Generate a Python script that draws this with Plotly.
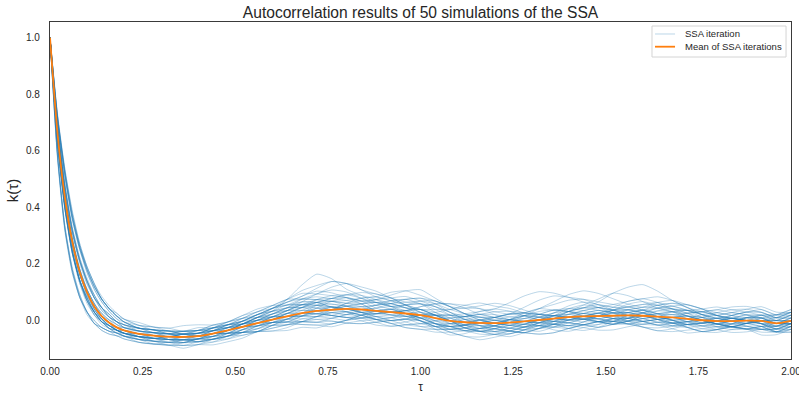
import plotly.graph_objects as go

# Lag values (tau) at which every autocorrelation curve is sampled
lags = [0.00, 0.02, 0.04, 0.06, 0.08, 0.10, 0.12, 0.14, 0.16, 0.18, 0.20,
        0.24, 0.28, 0.32, 0.36, 0.40, 0.44, 0.48, 0.52, 0.56, 0.60,
        0.64, 0.68, 0.72, 0.76, 0.80, 0.84, 0.88, 0.92, 0.96, 1.00,
        1.04, 1.08, 1.12, 1.16, 1.20, 1.24, 1.28, 1.32, 1.36, 1.40,
        1.44, 1.48, 1.52, 1.56, 1.60, 1.64, 1.68, 1.72, 1.76, 1.80,
        1.84, 1.88, 1.92, 1.96, 2.00]

# Mean autocorrelation over all SSA runs
mean_k = [1.000, 0.665, 0.436, 0.279, 0.172, 0.099, 0.048, 0.014, -0.009, -0.025, -0.036,
          -0.048, -0.054, -0.058, -0.059, -0.056, -0.047, -0.036, -0.023, -0.010, 0.002,
          0.014, 0.025, 0.033, 0.037, 0.040, 0.038, 0.033, 0.029, 0.024, 0.018,
          0.008, -0.002, -0.007, -0.009, -0.010, -0.008, -0.004, 0.001, 0.006, 0.011,
          0.014, 0.015, 0.016, 0.017, 0.016, 0.013, 0.010, 0.005, 0.000, -0.003,
          -0.003, -0.001, -0.002, -0.011, -0.002]

# Offset of each SSA run from the mean, in hundredths, for tau = 0.02 ... 2.00
# (at tau = 0 every run equals 1)
run_offsets = [
    "6 9 9 9 8 7 6 5 4 4 | 3 2 2 1 1 0 1 2 3 4 | 5 6 8 10 9 7 5 4 3 2 | 1 0 -1 -2 -1 1 3 4 3 2 | 0 -2 -3 -2 0 1 2 1 0 -1 | -2 -1 0 1 2",
    "0 1 0 -1 0 0 -1 -1 0 0 | -1 -2 -2 -1 0 0 -1 -2 -3 -2 | -1 0 2 3 1 -1 -3 -4 -3 -1 | 1 2 1 -1 -3 -4 -3 -1 1 3 | 4 3 1 -1 -2 -1 0 2 3 2 | 0 -2 -3 -2 -1",
    "-3 -4 -4 -3 -3 -2 -2 -1 -1 -2 | -2 -1 0 0 -1 -2 -1 0 1 2 | 3 2 0 -2 -3 -2 0 1 0 -2 | -4 -5 -4 -2 0 1 0 -1 -2 -3 | -2 0 2 3 2 0 -2 -3 -4 -3 | -1 1 2 1 0",
    "-8 -11 -10 -9 -7 -5 -4 -3 -3 -2 | -2 -2 -3 -2 -1 -1 0 1 1 0 | -1 -3 -4 -3 -2 0 2 3 2 0 | -2 -3 -2 0 2 3 2 0 -2 -4 | -5 -4 -2 0 1 0 -1 -3 -4 -3 | -2 -3 -5 -4 -3",
    "3 4 5 5 5 4 3 3 2 2 | 2 1 0 1 2 1 0 1 2 3 | 6 10 13 11 7 5 3 2 3 4 | 4 3 1 0 -1 -3 -4 -3 -1 1 | 2 3 2 1 0 -1 -2 -1 1 2 | 3 2 0 -1 -2",
    "-1 -1 0 1 1 1 0 0 -1 -1 | -1 0 0 1 1 2 3 3 2 1 | 0 -1 -2 -3 -4 -3 -1 1 3 5 | 6 5 3 1 0 1 2 1 -1 -2 | -3 -4 -3 -1 1 3 4 3 1 -1 | -2 -1 1 3 4",
    "-3 -3 -4 -4 -3 -3 -2 -2 -1 -1 | 0 -1 -1 -2 -2 -3 -3 -2 -1 -1 | -2 -3 -4 -5 -4 -2 0 1 0 -1 | -1 0 2 4 5 4 2 0 -1 -1 | 0 1 0 -2 -4 -5 -4 -2 0 1 | 1 0 -1 -1 0",
    "5 8 9 9 8 7 6 5 5 4 | 4 3 3 2 2 2 1 1 2 2 | 3 4 3 1 0 -1 -2 -3 -2 0 | 2 4 6 7 6 5 3 2 1 2 | 4 6 8 7 5 3 2 2 3 4 | 3 2 1 0 -1",
    "1 1 1 0 0 -1 -1 -2 -2 -2 | -2 -2 -1 -1 -1 0 0 1 2 3 | 4 3 1 0 1 2 3 2 0 -2 | -3 -2 -1 0 -1 -2 -3 -4 -3 -1 | 0 1 3 5 6 5 3 1 0 -1 | -2 -3 -2 0 1",
    "-7 -10 -10 -8 -7 -6 -4 -3 -2 -2 | -3 -3 -2 -2 -1 -2 -2 -3 -3 -2 | -1 0 -1 -2 -3 -3 -2 -1 0 -1 | -2 -2 -1 0 1 0 -1 -2 -4 -5 | -4 -3 -1 1 2 1 -1 -2 -1 0 | 1 0 -1 -2 -2",
    "3 4 4 4 4 3 3 2 2 1 | 1 1 2 2 3 2 2 3 4 5 | 6 7 6 5 4 3 4 6 8 9 | 7 5 3 1 0 -1 -1 0 2 4 | 5 4 2 0 -1 -2 -3 -2 -1 0 | 2 3 4 3 2",
    "0 0 -1 -1 -1 0 0 1 1 0 | 0 0 -1 -1 -2 -2 -2 -1 0 -1 | -2 -4 -5 -6 -5 -4 -3 -2 -1 -1 | 0 1 2 3 2 0 -2 -3 -2 0 | 1 2 1 0 0 1 2 3 2 0 | -2 -3 -2 -1 0",
    "-4 -4 -4 -3 -2 -2 -1 -1 -1 0 | 0 0 1 0 0 -1 -1 0 1 2 | 2 3 2 0 -1 -2 -3 -3 -2 0 | 1 0 -2 -3 -2 0 2 4 6 8 | 9 8 6 4 3 4 5 4 2 1 | 0 -1 -1 0 1",
    "6 10 10 9 9 8 6 5 4 3 | 2 2 1 1 0 0 0 1 2 4 | 5 6 7 6 4 2 0 -1 -1 0 | 1 1 0 -1 -2 -3 -2 0 1 1 | 0 -1 -2 -2 -1 0 2 3 3 2 | 1 0 0 1 2",
    "0 0 0 0 1 1 0 0 0 0 | -1 -1 -1 -2 -2 -1 0 0 -1 -2 | -3 -3 -2 0 2 4 5 4 3 1 | 0 -1 -1 -2 -3 -3 -4 -3 -2 -2 | -1 0 1 1 0 -1 -1 0 1 3 | 4 4 3 2 1",
    "-3 -4 -3 -3 -2 -2 -2 -1 -1 -1 | -1 -1 -1 0 0 0 1 1 0 -1 | -2 -1 1 3 4 3 1 0 1 3 | 5 6 5 3 2 1 1 2 3 3 | 2 1 -1 -3 -4 -4 -3 -1 0 -1 | -2 -3 -4 -3 -2",
    "2 3 4 4 4 3 3 2 2 2 | 1 1 0 0 0 0 -1 -1 -2 -2 | -3 -3 -4 -4 -5 -5 -4 -3 -2 -3 | -3 -2 -1 0 0 -1 -2 -2 -1 0 | 0 -1 -2 -3 -2 -1 0 1 1 0 | -1 -1 0 0 -1",
    "1 0 0 0 0 0 1 1 1 1 | 2 2 2 1 1 2 3 4 4 5 | 6 5 4 3 2 2 3 3 2 1 | 1 2 3 4 5 7 9 10 9 7 | 5 3 2 2 3 5 6 5 4 2 | 1 0 -1 -2 -1",
    "-9 -12 -11 -9 -7 -6 -4 -3 -2 -2 | -2 -3 -3 -3 -2 -2 -1 0 0 1 | 1 0 -1 -1 -2 -1 0 0 -1 -2 | -3 -4 -5 -5 -4 -3 -2 -2 -3 -4 | -3 -2 -1 -1 -2 -3 -2 0 2 3 | 2 1 -1 -3 -4",
    "5 8 8 8 7 6 5 4 3 3 | 3 3 3 4 4 3 2 2 3 3 | 2 1 0 0 1 2 4 5 6 5 | 4 2 0 -1 -1 0 1 2 3 2 | 0 -1 0 1 2 1 0 -1 -2 -2 | -1 1 2 3 3",
    "-1 -1 -1 -1 0 0 0 0 0 -1 | -1 -1 0 0 1 1 1 0 0 1 | 2 4 6 8 9 8 7 5 3 1 | 0 0 1 1 0 -1 -2 -1 0 2 | 3 3 2 0 -2 -3 -3 -2 -1 0 | 0 -1 -2 -3 -3",
    "-2 -3 -3 -3 -3 -2 -2 -2 -1 -1 | -1 -2 -2 -2 -1 -1 -1 -2 -3 -3 | -3 -2 -2 -1 -1 -2 -3 -4 -5 -5 | -4 -3 -2 -2 -1 0 0 -1 -2 -3 | -3 -2 -1 -1 0 -1 -2 -2 -1 0 | 1 2 1 0 -1",
    "3 5 5 5 4 4 3 3 2 2 | 2 2 1 1 0 0 -1 -1 0 0 | 1 2 4 5 5 4 2 1 0 -1 | -2 -2 -3 -3 -2 -1 0 0 1 1 | 2 3 4 5 6 7 6 4 2 1 | 0 -1 0 1 2",
    "0 1 1 1 0 0 0 0 -1 -1 | -2 -2 -2 -3 -3 -2 -2 -1 -1 0 | 1 1 0 -1 -2 -2 -1 0 1 2 | 2 1 -1 -3 -4 -5 -4 -3 -2 -1 | 0 1 0 -1 -2 -3 -4 -5 -4 -3 | -2 -1 0 1 0",
    "-3 -4 -4 -4 -4 -3 -3 -2 -2 -2 | -1 -1 0 1 1 2 2 1 1 0 | 0 -1 -1 0 2 3 4 3 2 2 | 3 4 5 5 4 3 3 4 5 6 | 6 5 4 3 2 1 1 2 3 4 | 5 5 4 3 3",
    "6 9 10 10 9 8 6 5 4 3 | 2 2 2 1 1 1 2 2 2 1 | 0 -1 -2 -2 -1 0 1 2 3 4 | 4 3 2 0 -1 -2 -2 -1 0 1 | 1 0 -1 -1 0 1 1 0 -1 -1 | 0 1 1 0 -1",
    "1 1 0 0 -1 -1 -1 0 0 0 | 0 -1 -1 -1 -2 -2 -3 -3 -3 -2 | -2 -1 0 1 0 -1 -2 -3 -4 -4 | -3 -1 1 2 2 1 0 -1 -1 -2 | -3 -3 -2 0 2 4 5 5 4 3 | 2 0 -1 -1 0",
    "-8 -11 -10 -9 -8 -6 -5 -4 -3 -3 | -3 -3 -3 -4 -3 -3 -2 -2 -3 -4 | -4 -3 -2 -1 -1 -2 -3 -2 0 1 | 1 0 -2 -3 -3 -2 -1 0 0 -1 | -2 -2 -3 -2 -1 0 1 1 0 -2 | -3 -3 -2 -1 -1",
    "2 3 3 4 3 3 3 2 2 1 | 1 0 0 0 1 1 2 2 3 4 | 6 8 9 10 9 7 6 5 4 4 | 3 2 2 3 4 4 3 1 0 -1 | -1 0 1 1 0 -1 -2 -2 -1 0 | 1 2 2 1 0",
    "0 0 0 1 1 1 1 0 0 0 | 0 0 -1 -1 -1 0 -1 -2 -3 -4 | -5 -5 -6 -5 -4 -2 -1 0 0 -1 | -2 -2 -1 0 1 2 2 1 0 -1 | -1 -2 -3 -3 -2 -1 0 1 0 -1 | -2 -3 -3 -2 -1",
    "-3 -3 -3 -3 -2 -2 -2 -1 -1 -1 | 0 0 0 0 0 1 1 1 2 3 | 3 2 1 0 0 1 2 4 5 4 | 2 0 -2 -3 -4 -4 -3 -2 0 2 | 3 4 3 2 1 0 -1 -1 0 1 | 2 3 3 2 2",
    "5 7 8 8 7 6 5 4 3 2 | 2 1 1 0 0 1 1 2 3 3 | 3 3 2 1 0 -1 -1 0 0 -1 | -2 -3 -3 -2 -1 1 2 2 1 0 | -1 -2 -2 -1 1 3 4 5 4 2 | 1 0 -1 0 1",
    "0 -1 -1 -1 -1 -1 -1 -1 -1 0 | 0 1 1 1 0 0 0 1 2 2 | 2 2 3 4 5 5 4 2 1 0 | -1 -1 0 1 2 3 3 2 1 0 | -1 -2 -3 -2 -1 0 0 -1 -2 -3 | -4 -4 -3 -1 0",
    "3 4 4 4 4 3 2 2 1 1 | 1 1 1 2 2 2 1 0 0 1 | 2 3 3 2 1 1 2 3 4 5 | 5 4 3 2 2 3 5 7 8 7 | 6 4 3 3 4 5 4 3 2 2 | 3 4 5 4 3",
    "-7 -10 -9 -8 -7 -5 -4 -3 -2 -2 | -2 -2 -2 -1 -1 -1 -2 -2 -2 -1 | -1 -2 -3 -4 -5 -5 -4 -3 -2 -2 | -3 -4 -5 -6 -5 -4 -3 -2 -2 -3 | -4 -5 -5 -4 -3 -2 -2 -3 -4 -4 | -3 -2 -2 -3 -3",
    "0 0 1 1 1 1 1 1 0 0 | 0 0 0 1 1 1 0 0 -1 -1 | -1 -1 0 1 1 0 -1 -1 -2 -2 | -2 -1 0 1 0 -1 -1 0 1 2 | 3 5 8 10 11 9 6 4 3 2 | 1 0 0 -1 -1",
    "-3 -4 -4 -3 -3 -2 -2 -2 -1 -1 | -1 0 0 -1 -1 -1 0 1 1 1 | 0 -1 -1 -2 -3 -3 -2 -2 -3 -4 | -4 -3 -1 1 1 0 -1 -2 -2 -1 | 0 0 -1 -2 -2 -1 0 1 1 0 | -1 -2 -3 -3 -2",
    "7 10 11 10 9 8 7 6 5 4 | 3 3 2 2 2 1 1 1 1 2 | 3 5 6 7 6 4 3 2 2 2 | 1 0 0 1 2 3 3 2 1 0 | -1 -1 0 2 3 3 2 0 -1 -2 | -2 -1 0 2 3",
    "1 1 1 0 0 0 0 0 0 0 | 0 0 -1 -1 -1 -2 -2 -2 -1 0 | 1 2 2 1 -1 -3 -4 -5 -4 -3 | -1 1 2 3 3 2 1 1 2 2 | 1 0 -1 -2 -3 -3 -2 -1 -1 0 | 1 1 0 -2 -3",
    "2 3 3 3 3 3 2 2 2 1 | 1 1 1 1 2 3 3 4 5 5 | 4 3 3 4 5 6 6 5 3 2 | 1 -1 -2 -3 -3 -2 -1 0 -1 -2 | -3 -4 -3 -2 0 2 3 3 2 1 | 0 0 1 2 3",
    "-2 -3 -3 -3 -2 -2 -2 -1 -1 -1 | -1 -1 -2 -2 -1 0 0 0 1 1 | 1 0 -1 -2 -3 -4 -5 -5 -4 -3 | -2 -2 -3 -4 -4 -3 -2 -1 0 0 | -1 -2 -2 -1 0 0 -1 -2 -3 -3 | -2 -1 0 0 -1",
    "0 0 -1 -1 0 0 0 0 0 1 | 1 1 1 0 0 1 2 3 4 4 | 4 5 5 4 4 3 3 4 5 6 | 5 3 1 0 0 1 0 -2 -3 -3 | -2 0 2 4 5 4 3 3 4 5 | 4 3 2 2 3",
    "-8 -11 -11 -9 -7 -6 -5 -4 -3 -3 | -3 -3 -3 -3 -3 -4 -4 -4 -3 -3 | -3 -4 -5 -5 -4 -3 -3 -4 -5 -5 | -5 -4 -3 -2 -2 -3 -4 -5 -5 -4 | -3 -2 -2 -3 -4 -5 -5 -4 -3 -2 | -2 -2 -3 -3 -2",
    "5 8 8 8 8 7 6 5 4 3 | 2 2 1 1 1 2 2 1 0 0 | 1 2 3 3 2 1 0 0 1 3 | 5 6 6 5 3 1 0 -1 -1 0 | 1 2 1 0 -1 -2 -2 -1 0 1 | 1 0 -1 -2 -2",
    "-1 0 0 0 0 -1 -1 -1 -1 -1 | -1 -1 -1 0 0 -1 -1 -2 -2 -1 | 0 1 2 2 1 0 0 1 1 0 | -1 -2 -3 -3 -2 -1 0 1 1 0 | 0 1 2 2 1 0 -1 -2 -2 -1 | 0 1 1 0 0",
    "3 4 4 4 4 4 3 3 2 2 | 2 2 2 2 1 1 1 2 3 4 | 5 5 4 3 3 4 5 7 8 7 | 6 5 5 6 7 6 4 2 0 -1 | -1 0 1 2 1 -1 -3 -3 -2 -1 | 0 1 1 1 0",
    "-3 -3 -4 -3 -3 -3 -2 -2 -2 -1 | -1 -1 -1 -1 -2 -2 -2 -1 -1 -1 | -2 -3 -3 -3 -2 -1 0 0 -1 -2 | -3 -3 -2 -1 -1 -2 -3 -3 -3 -2 | -1 -1 -2 -3 -3 -2 -1 0 0 -1 | -2 -3 -3 -2 -1",
    "1 1 0 0 0 0 0 0 0 0 | 1 1 1 2 2 2 2 2 1 1 | 2 3 4 4 3 2 0 -1 -1 0 | 1 2 2 2 1 0 0 1 2 3 | 3 2 1 1 2 3 3 2 0 -1 | -1 0 2 3 4",
    "-2 -3 -3 -3 -2 -2 -1 -1 -1 -1 | -1 -1 -1 -1 0 0 0 0 -1 -1 | -1 0 1 1 0 -1 -1 0 1 2 | 1 0 -1 -1 -2 -3 -4 -5 -5 -4 | -3 -2 -1 0 1 2 2 1 0 -1 | -1 -1 -2 -3 -4",
    "6 9 9 9 8 7 6 5 4 3 | 2 2 2 2 2 3 3 3 3 4 | 4 4 3 1 0 0 1 3 5 6 | 6 5 3 2 1 1 2 3 3 2 | 1 1 2 3 4 4 3 2 1 1 | 2 3 3 2 1",
]

x_ticks = [0.00, 0.25, 0.50, 0.75, 1.00, 1.25, 1.50, 1.75, 2.00]
y_ticks = [0.0, 0.2, 0.4, 0.6, 0.8, 1.0]
legend_labels = ["SSA iteration", "Mean of SSA iterations"]

RUN_COLOR = "rgba(31,119,180,0.3)"
MEAN_COLOR = "#ff7f0e"
TEXT_COLOR = "#262626"
FONT = "Liberation Sans, Arial, sans-serif"

runs = []
for i, row in enumerate(run_offsets):
    offs = [0] + [int(v) for v in row.replace("|", " ").split()]
    if len(offs) != len(lags):
        raise ValueError(f"run {i} has {len(offs)} values")
    runs.append([m + o / 100 for m, o in zip(mean_k, offs)])

fig = go.Figure()
for k in runs:
    fig.add_trace(go.Scatter(
        x=lags, y=k, mode="lines",
        line=dict(color=RUN_COLOR, width=1, shape="spline", smoothing=0.6),
        name=legend_labels[0], showlegend=False, hoverinfo="skip",
    ))

fig.add_trace(go.Scatter(
    x=lags, y=mean_k, mode="lines",
    line=dict(color=MEAN_COLOR, width=1.8, shape="spline", smoothing=0.6),
    name=legend_labels[1], showlegend=False,
))

# Legend box in the upper-right corner of the axes (paper coords = plot area)
legend_shapes = [
    dict(type="rect", xref="paper", yref="paper",
         x0=0.8124, x1=0.9933, y0=0.8961, y1=0.9881,
         line=dict(color="#d4d4d4", width=1), fillcolor="rgba(255,255,255,0.8)",
         layer="above"),
    dict(type="line", xref="paper", yref="paper",
         x0=0.8165, x1=0.8435, y0=0.9644, y1=0.9644,
         line=dict(color=RUN_COLOR, width=1), layer="above"),
    dict(type="line", xref="paper", yref="paper",
         x0=0.8165, x1=0.8435, y0=0.9267, y1=0.9267,
         line=dict(color=MEAN_COLOR, width=1.8), layer="above"),
]
legend_texts = [
    dict(xref="paper", yref="paper", x=0.8543, y=yy, text=t,
         xanchor="left", yanchor="middle", showarrow=False,
         font=dict(family=FONT, size=9.5, color=TEXT_COLOR))
    for t, yy in zip(legend_labels, [0.9644, 0.9267])
]

axis_common = dict(
    showgrid=False, zeroline=False, showline=True, mirror=True,
    linecolor="#3a3a3a", linewidth=1.3, ticks="",
    ticklabeloverflow="allow",
    tickfont=dict(family=FONT, size=10, color=TEXT_COLOR),
)

fig.update_layout(
    width=799, height=394,
    margin=dict(l=50, r=8, t=22, b=35),
    paper_bgcolor="white", plot_bgcolor="white",
    font=dict(family=FONT, color=TEXT_COLOR),
    title=dict(
        text="Autocorrelation results of 50 simulations of the SSA",
        font=dict(size=15.6, color=TEXT_COLOR),
        x=0.5263, xanchor="center", y=0.968, yanchor="middle",
    ),
    shapes=legend_shapes,
    annotations=legend_texts,
    showlegend=False,
)

fig.update_xaxes(
    range=[0, 2], tickvals=x_ticks, ticktext=[f"{v:.2f}" for v in x_ticks],
    title=dict(text="τ", font=dict(size=12, color=TEXT_COLOR)),
    ticklabelstandoff=3, automargin=False,
    **axis_common,
)
fig.update_yaxes(
    range=[-0.137, 1.055], tickvals=y_ticks, ticktext=[f"{v:.1f}" for v in y_ticks],
    title=dict(text="k(τ)", font=dict(size=15, color=TEXT_COLOR), standoff=3),
    ticklabelstandoff=7, automargin=True,
    **axis_common,
)

fig.write_html("out.html")
